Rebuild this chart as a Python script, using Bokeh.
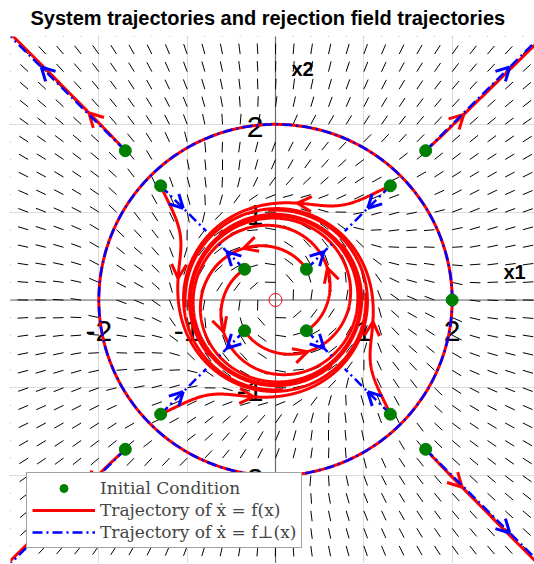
import numpy as np
from bokeh.plotting import figure
from bokeh.models import Span, Legend, LegendItem, Label, FixedTicker, Range1d, Title
from bokeh.core.properties import value
from bokeh.embed import file_html
from bokeh.resources import INLINE

# ---------------- data ----------------
TITLE = "System trajectories and rejection field trajectories"
IC_X = [0.35, -0.35, -0.35, 0.35, 1.3, -1.3, -1.3, 1.3, 1.7, -1.7, -1.7, 1.7, 2.0]
IC_Y = [0.35, 0.35, -0.35, -0.35, 1.3, 1.3, -1.3, -1.3, 1.7, 1.7, -1.7, -1.7, 0.0]
IC_GROUP = [0, 0, 0, 0, 1, 1, 1, 1, 2, 2, 2, 2, 3]
RED_ARROW_R = [0.69, 1.13, 3.0]
BLUE_ARROW_R = [0.77, 1.48, 3.75]
BLUE_END_R = [0.9, 1.11, 4.7]
EQ_X = [0.0]
EQ_Y = [0.0]
XTICKS = [-2, -1, 1, 2]
YTICKS = [-2, -1, 1, 2]
TICK_LABELS = ["-2", "-1", "1", "2"]
GRID_LINES = [-3, -2, -1, 0, 1, 2, 3]
AXIS_NAMES = ["x1", "x2"]
LEGEND_LABELS = ["Initial Condition", "Trajectory of \u1e8b = f(x)", "Trajectory of \u1e8b = f\u22a5(x)"]

# system (polar form): stable cycle r=1, unstable cycle r=2
LIMIT_R_IN = 1.0
LIMIT_R_OUT = 2.0
K_RAD = 1.0
A_FLAT = 0.004
B_FLAT = 0.04
A_ROT = 0.38
W_ROT = 0.15
T_RED = 14.0
FIELD_STEP = 0.2
FIELD_LEN = 0.12


def rdot(r):
    d = (LIMIT_R_IN - r) ** 2
    return K_RAD * r * (LIMIT_R_IN - r) * (LIMIT_R_OUT - r) * (d + A_FLAT) / (d + B_FLAT)


def thdot(r):
    return A_ROT / r ** 3 * np.tanh((LIMIT_R_OUT - r) / W_ROT)


def integrate(x0, y0, T, rotate, r_end=None, r_stop=4.7, ds=0.008, hmax=0.05):
    r = float(np.hypot(x0, y0))
    th = float(np.arctan2(y0, x0))
    xs, ys, rs = [x0], [y0], [r]
    t = 0.0
    side = None if r_end is None else np.sign(r - r_end)

    def F(rr):
        return rdot(rr), (thdot(rr) if rotate else 0.0)

    while t < T and r < r_stop:
        sp = max(abs(rdot(r)), abs(r * thdot(r)) if rotate else 0.0, 1e-12)
        h = min(hmax, ds / sp, T - t)
        k1 = F(r)
        k2 = F(r + 0.5 * h * k1[0])
        k3 = F(r + 0.5 * h * k2[0])
        k4 = F(r + h * k3[0])
        r += h * (k1[0] + 2 * k2[0] + 2 * k3[0] + k4[0]) / 6
        th += h * (k1[1] + 2 * k2[1] + 2 * k3[1] + k4[1]) / 6
        t += h
        xs.append(r * np.cos(th))
        ys.append(r * np.sin(th))
        rs.append(r)
        if side is not None and np.sign(r - r_end) != side:
            break
    return np.array(xs), np.array(ys), np.array(rs)


def chevron(xs, ys, rs, target, L=0.18, ang=np.radians(28)):
    s = np.sign(rs - target)
    idx = np.where(s != s[0])[0]
    i = int(idx[0]) if len(idx) else len(rs) // 2
    i = max(1, min(i, len(rs) - 2))
    dx, dy = xs[i + 1] - xs[i - 1], ys[i + 1] - ys[i - 1]
    n = np.hypot(dx, dy)
    bx, by = -dx / n, -dy / n
    out = []
    for a in (ang, -ang):
        ca, sa = np.cos(a), np.sin(a)
        ex = xs[i] + L * (ca * bx - sa * by)
        ey = ys[i] + L * (sa * bx + ca * by)
        out.append(([ex, xs[i]], [ey, ys[i]]))
    return out


red_x, red_y, red_ax, red_ay = [], [], [], []
blue_x, blue_y, blue_ax, blue_ay = [], [], [], []
for x0, y0, g in zip(IC_X, IC_Y, IC_GROUP):
    if g == 3:
        continue
    xs, ys, rs = integrate(x0, y0, T_RED if g < 2 else 1e9, True)
    red_x.append(list(xs)); red_y.append(list(ys))
    for cx, cy in chevron(xs, ys, rs, RED_ARROW_R[g]):
        red_ax.append(cx); red_ay.append(cy)
    xs, ys, rs = integrate(x0, y0, 1e9, False, r_end=BLUE_END_R[g])
    blue_x.append(list(xs)); blue_y.append(list(ys))
    for cx, cy in chevron(xs, ys, rs, BLUE_ARROW_R[g], L=0.17):
        blue_ax.append(cx); blue_ay.append(cy)

# limit cycle r = 2 (trajectory starting on it)
phi = np.linspace(0, 2 * np.pi, 400)
circ_x = list(LIMIT_R_OUT * np.cos(phi))
circ_y = list(LIMIT_R_OUT * np.sin(phi))

# normalized direction field
g = np.round(np.arange(-3, 3 + 1e-9, FIELD_STEP), 6)
GX, GY = np.meshgrid(g, g)
GR = np.hypot(GX, GY)
with np.errstate(invalid="ignore", divide="ignore"):
    VX = rdot(GR) * GX / GR - thdot(GR) * GY
    VY = rdot(GR) * GY / GR + thdot(GR) * GX
    NV = np.hypot(VX, VY)
    ok = np.isfinite(NV) & (NV > 1e-9)
    UX = np.where(ok, VX / NV, 0)
    UY = np.where(ok, VY / NV, 0)
fx0 = GX[ok]; fy0 = GY[ok]
fx1 = fx0 + FIELD_LEN * UX[ok]; fy1 = fy0 + FIELD_LEN * UY[ok]

# ---------------- figure ----------------
p = figure(frame_width=524, frame_height=527, output_backend="svg", toolbar_location=None,
           x_range=Range1d(-3, 2.932), y_range=Range1d(-3, 3),
           min_border_left=10, min_border_right=0, min_border_bottom=0, min_border_top=35)
p.title = Title(text=TITLE, align="left", offset=20, vertical_align="top",
                text_font="Liberation Sans", text_font_size="20px",
                text_font_style="bold", standoff=12, text_color="black")
p.outline_line_color = None
p.xaxis.visible = False
p.yaxis.visible = False
p.xgrid.ticker = FixedTicker(ticks=GRID_LINES)
p.ygrid.ticker = FixedTicker(ticks=GRID_LINES)
p.grid.grid_line_color = "#dcdcdc"
p.grid.grid_line_width = 1

p.add_layout(Span(location=0, dimension="width", line_color="#6a6a6a", line_width=1.2, level="underlay"))
p.add_layout(Span(location=0, dimension="height", line_color="#6a6a6a", line_width=1.2, level="underlay"))

p.segment(fx0, fy0, fx1, fy1, line_color="black", line_width=1)

p.text(x=XTICKS, y=[0] * len(XTICKS), text=TICK_LABELS, text_font=value("Liberation Sans"),
       text_font_size="30px", text_align="center", text_baseline="middle", y_offset=31, text_color="black")
p.text(x=[0] * len(YTICKS), y=YTICKS, text=TICK_LABELS, text_font=value("Liberation Sans"),
       text_font_size="30px", text_align="right", text_baseline="middle", x_offset=-12, y_offset=3,
       text_color="black")

p.line(circ_x, circ_y, line_color="red", line_width=3)
r_red = p.multi_line(red_x, red_y, line_color="red", line_width=3)
p.multi_line(red_ax, red_ay, line_color="red", line_width=3)
p.line(circ_x, circ_y, line_color="blue", line_width=2.5, line_dash="10 4 2 4")
r_blue = p.multi_line(blue_x, blue_y, line_color="blue", line_width=2.5, line_dash="10 4 2 4")
p.multi_line(blue_ax, blue_ay, line_color="blue", line_width=3)

r_ic = p.scatter(IC_X, IC_Y, size=12, fill_color="#007f00", line_color="#007f00")
p.scatter(EQ_X, EQ_Y, size=13, fill_color=None, line_color="red", line_width=1)

p.add_layout(Label(x=2.58, y=0.316, text=AXIS_NAMES[0], text_font="Liberation Sans", text_font_size="20px",
                   text_font_style="bold", text_baseline="alphabetic", text_color="black"))
p.add_layout(Label(x=0.18, y=2.63, text=AXIS_NAMES[1], text_font="Liberation Sans", text_font_size="20px",
                   text_font_style="bold", text_baseline="alphabetic", text_color="black"))

legend = Legend(items=[LegendItem(label=LEGEND_LABELS[0], renderers=[r_ic]),
                       LegendItem(label=LEGEND_LABELS[1], renderers=[r_red]),
                       LegendItem(label=LEGEND_LABELS[2], renderers=[r_blue])],
                location=(16, 15), label_text_font="DejaVu Serif", label_text_font_size="17px",
                glyph_width=63, glyph_height=20, label_height=20, label_standoff=5, spacing=2,
                padding=5, margin=0, border_line_color="#444444", border_line_width=1,
                background_fill_alpha=1.0)
p.add_layout(legend)

open("out.html", "w").write(file_html(p, INLINE))
